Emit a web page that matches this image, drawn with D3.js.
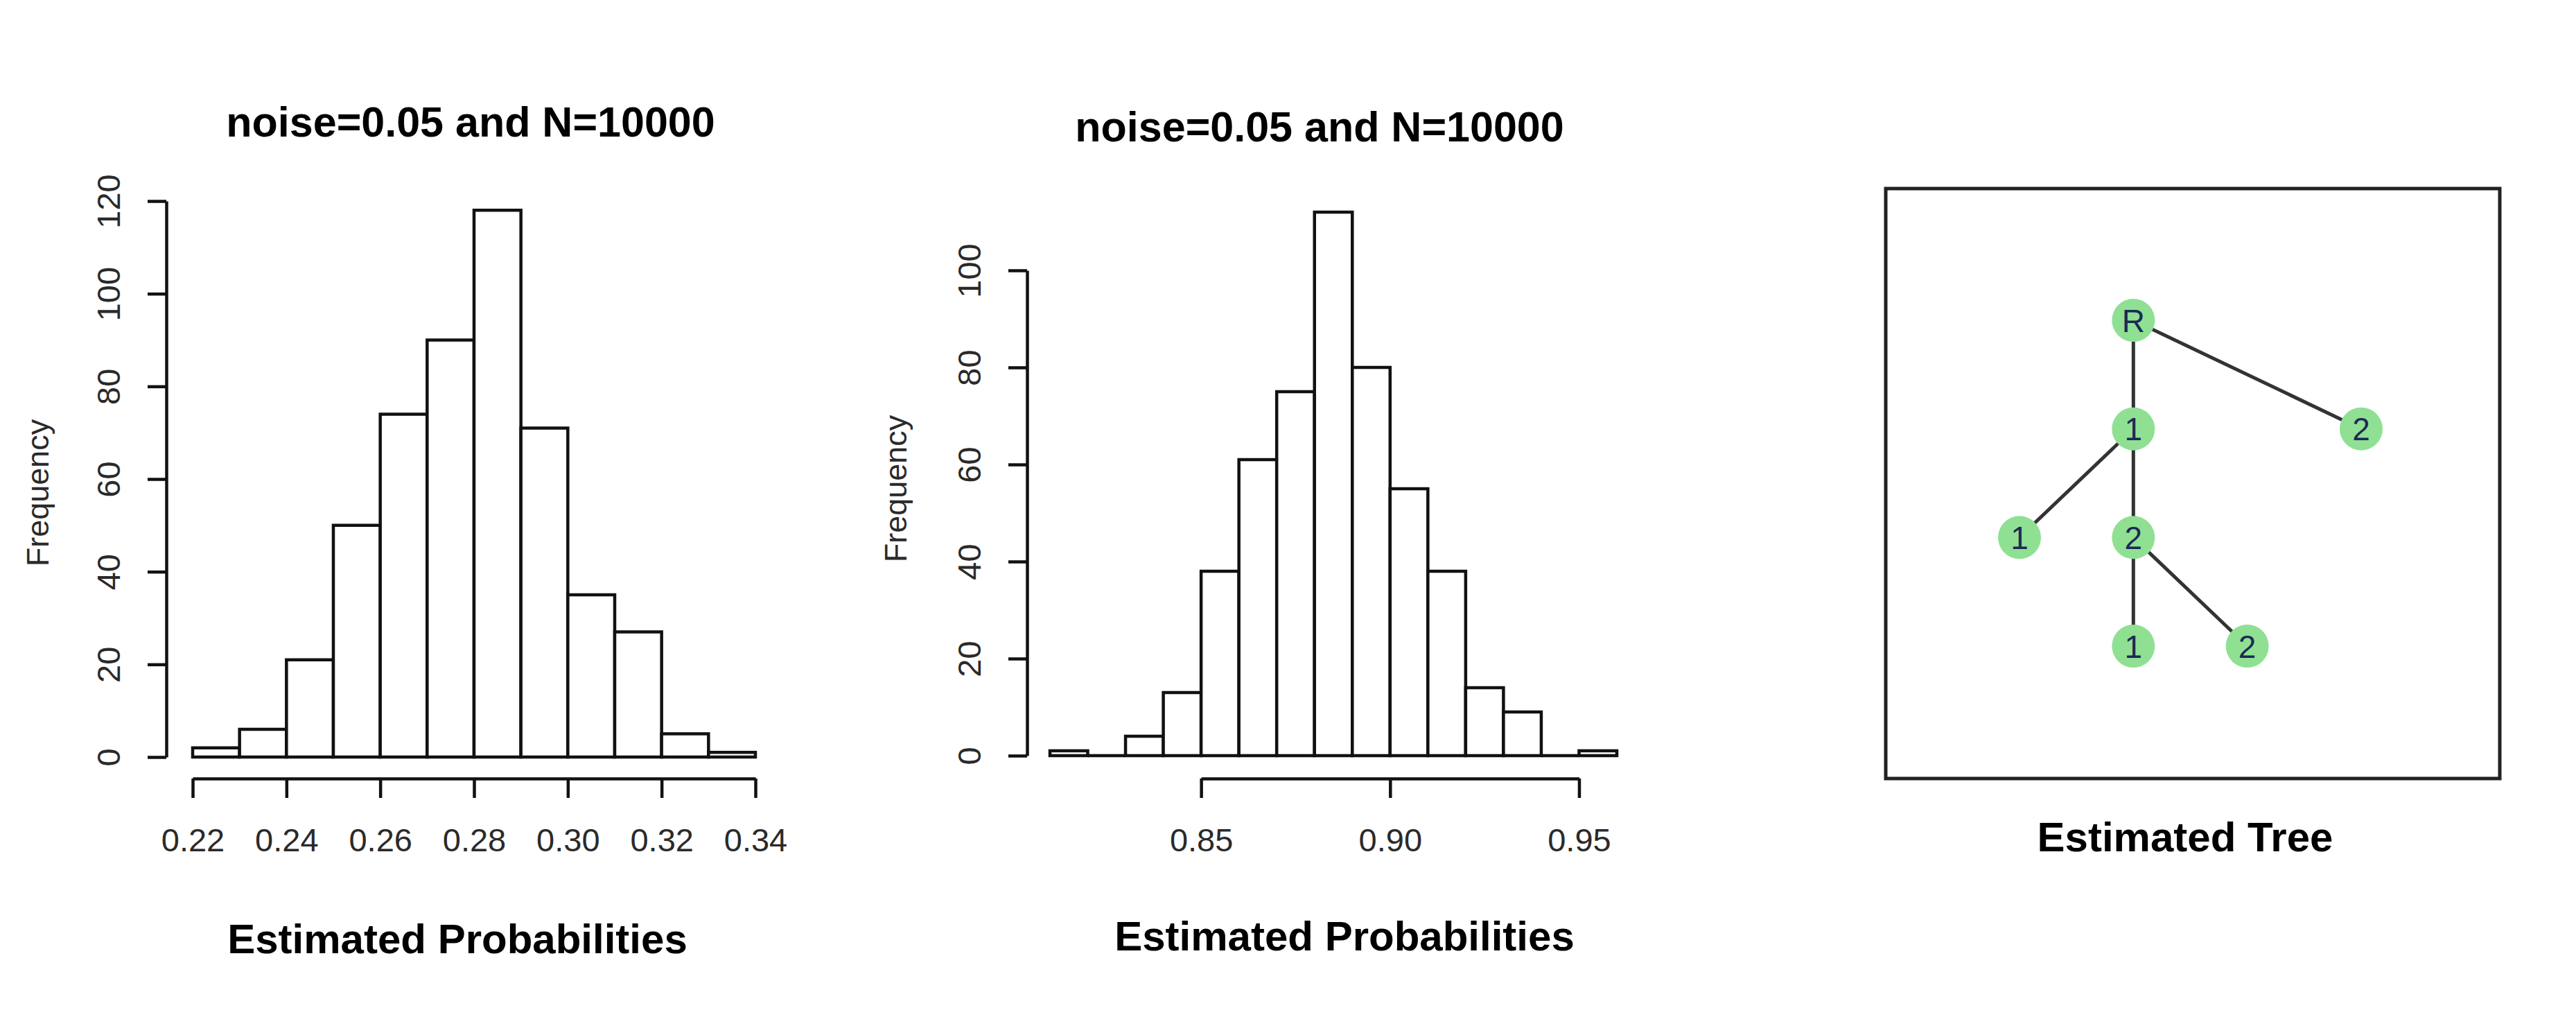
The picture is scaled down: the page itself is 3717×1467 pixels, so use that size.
<!DOCTYPE html>
<html>
<head>
<meta charset="utf-8">
<script src="https://cdn.jsdelivr.net/npm/d3@7"></script>
<style>
  body { margin: 0; background: #fff; }
  svg { display: block; font-family: "Liberation Sans", Arial, sans-serif; }
  .axis path, .axis line { stroke: #111; stroke-width: 4.5; }
  .axis text { font-size: 47px; fill: #2a2a2a; }
</style>
</head>
<body>
<svg id="chart" width="3717" height="1467"></svg>
<script>
// left histogram
const leftBreaks = [0.22, 0.23, 0.24, 0.25, 0.26, 0.27, 0.28, 0.29, 0.30, 0.31, 0.32, 0.33, 0.34]
const leftCounts = [2, 6, 21, 50, 74, 90, 118, 71, 35, 27, 5, 1]
const leftXTicks = [0.22, 0.24, 0.26, 0.28, 0.30, 0.32, 0.34]
const leftYTicks = [0, 20, 40, 60, 80, 100, 120]

// middle histogram
const midBreaks = [0.81, 0.82, 0.83, 0.84, 0.85, 0.86, 0.87, 0.88, 0.89, 0.90, 0.91, 0.92, 0.93, 0.94, 0.95, 0.96]
const midCounts = [1, 0, 4, 13, 38, 61, 75, 112, 80, 55, 38, 14, 9, 0, 1]
const midXTicks = [0.85, 0.90, 0.95]
const midYTicks = [0, 20, 40, 60, 80, 100]

const histTitle = 'noise=0.05 and N=10000'
const histXLabel = 'Estimated Probabilities'
const histYLabel = 'Frequency'

// tree
const nodeLabels = ['R', '1', '2', '1', '2', '1', '2']
const nodeCol = [0, 0, 2, -1, 0, 0, 1]
const nodeLevel = [0, 1, 1, 2, 2, 3, 3]
const edges = [[0, 1], [0, 2], [1, 3], [1, 4], [4, 5], [4, 6]]
const treeLabel = 'Estimated Tree'

const svg = d3.select('#chart')

function histogram(opt) {
  const x = d3.scaleLinear().domain(opt.xDomain).range(opt.xRange)
  const y = d3.scaleLinear().domain(opt.yDomain).range(opt.yRange)
  const g = svg.append('g')

  const bins = opt.counts.map((c, i) => ({ x0: opt.breaks[i], x1: opt.breaks[i + 1], n: c }))
  // paths so that empty bins still show as a line on the baseline
  g.selectAll('path.bar')
    .data(bins)
    .enter()
    .append('path')
    .attr('class', 'bar')
    .attr('d', d => `M${x(d.x0)},${y(0)}V${y(d.n)}H${x(d.x1)}V${y(0)}Z`)
    .attr('fill', 'white')
    .attr('stroke', '#111')
    .attr('stroke-width', 4.5)

  // R style axis: line only between first and last tick
  const xt = opt.xTicks
  const xAxisScale = x.copy().domain([xt[0], xt[xt.length - 1]]).range([x(xt[0]), x(xt[xt.length - 1])])
  const xAxis = d3.axisBottom(xAxisScale)
    .tickValues(xt)
    .tickFormat(d3.format('.2f'))
    .tickSize(28)
    .tickSizeOuter(0)
  g.append('g')
    .attr('class', 'axis')
    .attr('transform', `translate(0, ${opt.xAxisY})`)
    .call(xAxis)
    .selectAll('text')
    .attr('y', 89)
    .attr('dy', '0.35em')

  const yt = opt.yTicks
  const yAxisScale = y.copy().domain([yt[0], yt[yt.length - 1]]).range([y(yt[0]), y(yt[yt.length - 1])])
  const yAxis = d3.axisLeft(yAxisScale)
    .tickValues(yt)
    .tickSize(27)
    .tickSizeOuter(0)
  g.append('g')
    .attr('class', 'axis')
    .attr('transform', `translate(${opt.yAxisX}, 0)`)
    .call(yAxis)
    .selectAll('text')
    .attr('transform', 'rotate(-90)')
    .attr('text-anchor', 'middle')
    .attr('x', 0)
    .attr('y', -83)
    .attr('dy', '0.35em')

  g.append('text')
    .attr('x', opt.titleX)
    .attr('y', opt.titleY)
    .attr('text-anchor', 'middle')
    .attr('font-size', 61)
    .attr('font-weight', 'bold')
    .attr('fill', '#000')
    .text(histTitle)

  g.append('text')
    .attr('x', opt.xLabelX)
    .attr('y', opt.xLabelY)
    .attr('text-anchor', 'middle')
    .attr('font-size', 60)
    .attr('font-weight', 'bold')
    .attr('fill', '#000')
    .text(histXLabel)

  g.append('text')
    .attr('transform', `translate(${opt.yLabelX}, ${opt.yLabelY}) rotate(-90)`)
    .attr('text-anchor', 'middle')
    .attr('dy', '0.35em')
    .attr('font-size', 45)
    .attr('fill', '#2a2a2a')
    .text(histYLabel)
}

histogram({
  breaks: leftBreaks, counts: leftCounts, xTicks: leftXTicks, yTicks: leftYTicks,
  xDomain: [0.22, 0.34], xRange: [278, 1090],
  yDomain: [0, 120], yRange: [1092, 290],
  xAxisY: 1123, yAxisX: 240,
  titleX: 679, titleY: 197,
  xLabelX: 660, xLabelY: 1375,
  yLabelX: 54, yLabelY: 711
})

histogram({
  breaks: midBreaks, counts: midCounts, xTicks: midXTicks, yTicks: midYTicks,
  xDomain: [0.81, 0.96], xRange: [1515, 2333],
  yDomain: [0, 100], yRange: [1090, 390],
  xAxisY: 1123, yAxisX: 1482,
  titleX: 1904, titleY: 204,
  xLabelX: 1940, xLabelY: 1371,
  yLabelX: 1292, yLabelY: 705
})

// TREE
const tg = svg.append('g')
tg.append('rect')
  .attr('x', 2721)
  .attr('y', 272)
  .attr('width', 3607 - 2721)
  .attr('height', 1123 - 272)
  .attr('fill', 'none')
  .attr('stroke', '#222')
  .attr('stroke-width', 5)

const tx = d3.scaleLinear().domain([-1, 2]).range([2914, 3407])
const ty = d3.scaleLinear().domain([0, 3]).range([462, 932])

tg.selectAll('line.edge')
  .data(edges)
  .enter()
  .append('line')
  .attr('class', 'edge')
  .attr('x1', d => tx(nodeCol[d[0]]))
  .attr('y1', d => ty(nodeLevel[d[0]]))
  .attr('x2', d => tx(nodeCol[d[1]]))
  .attr('y2', d => ty(nodeLevel[d[1]]))
  .attr('stroke', '#333')
  .attr('stroke-width', 5)

const nodes = tg.selectAll('g.node')
  .data(nodeLabels)
  .enter()
  .append('g')
  .attr('class', 'node')
  .attr('transform', (d, i) => `translate(${tx(nodeCol[i])}, ${ty(nodeLevel[i])})`)

nodes.append('circle')
  .attr('r', 31)
  .attr('fill', '#8fe093')

nodes.append('text')
  .attr('text-anchor', 'middle')
  .attr('dy', '0.36em')
  .attr('font-size', 46)
  .attr('fill', '#1b2a55')
  .text(d => d)

tg.append('text')
  .attr('x', 3153)
  .attr('y', 1228)
  .attr('text-anchor', 'middle')
  .attr('font-size', 60)
  .attr('font-weight', 'bold')
  .attr('fill', '#000')
  .text(treeLabel)
</script>
</body>
</html>
